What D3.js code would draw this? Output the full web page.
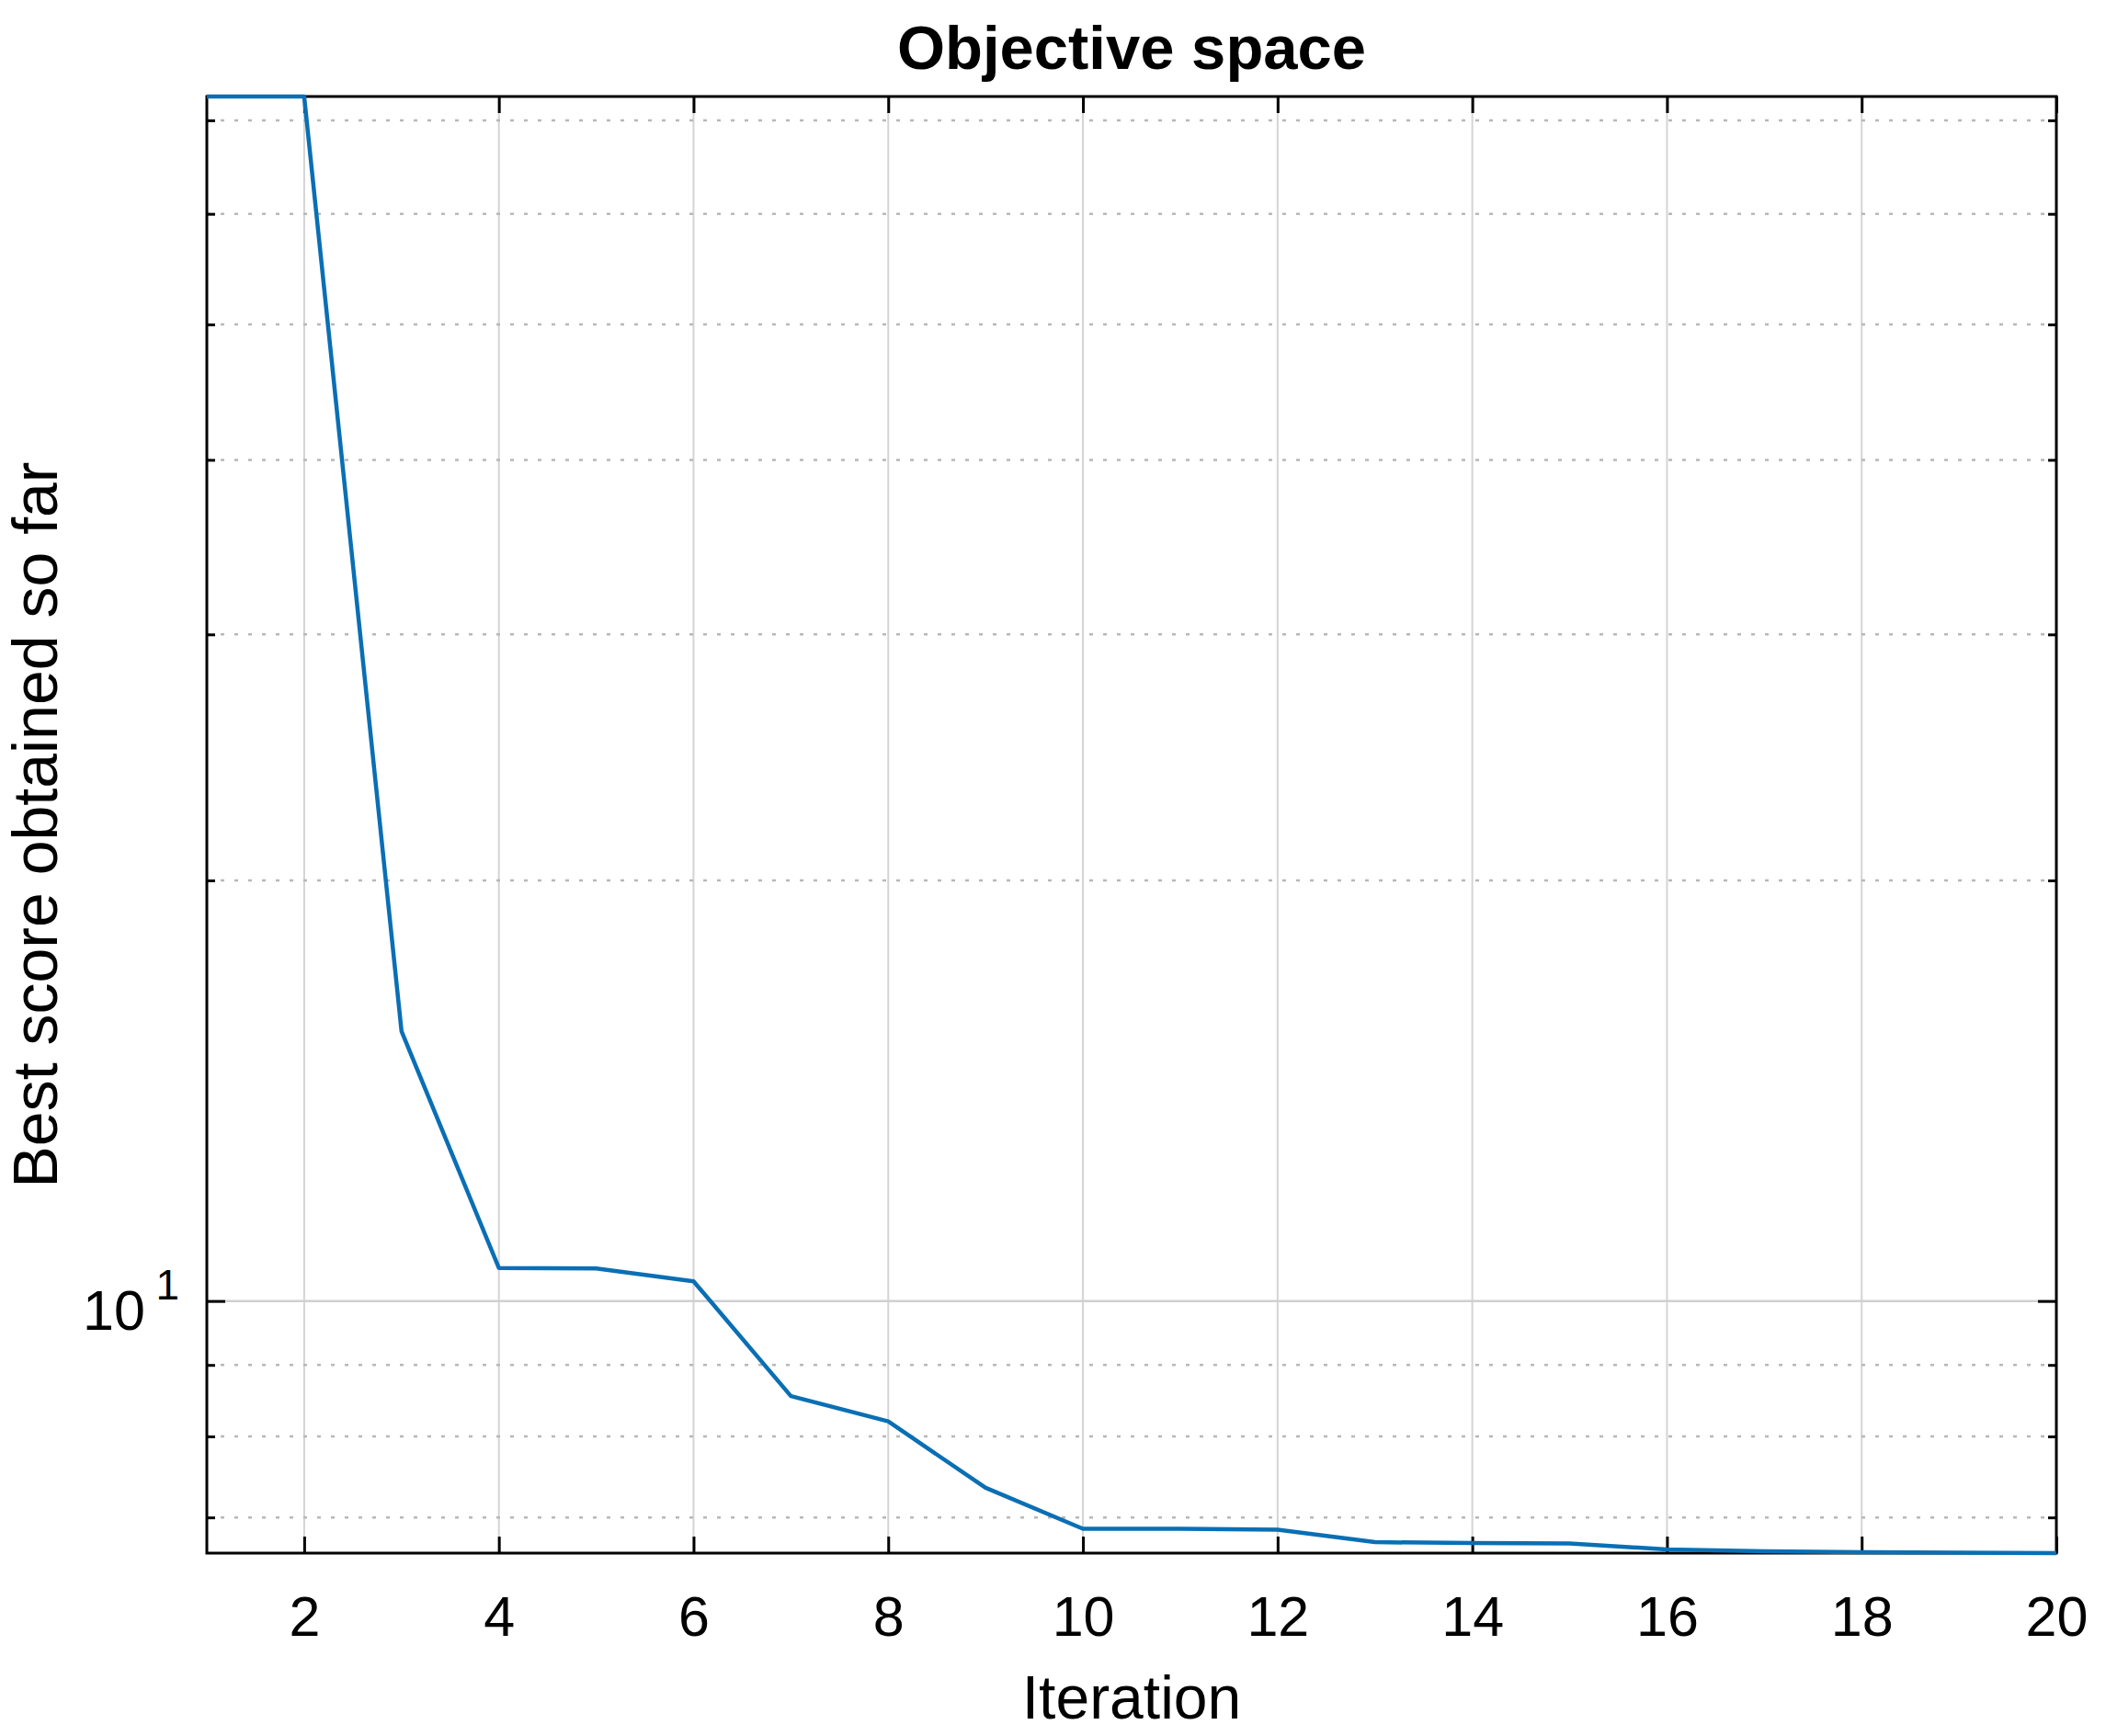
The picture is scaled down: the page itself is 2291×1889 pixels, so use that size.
<!DOCTYPE html>
<html>
<head>
<meta charset="utf-8">
<script src="https://cdn.jsdelivr.net/npm/d3@7"></script>
<style>
  body { margin: 0; background: #fff; }
  text { font-family: "Liberation Sans", Arial, Helvetica, sans-serif; fill: #000; }
</style>
</head>
<body>
<div id="chart"></div>
<script>
/* global d3 */

// Canvas and plot box
const width = 2291,
  height = 1889,
  marginLeft = 225,
  marginRight = 2291 - 2237,
  marginTop = 105,
  marginBottom = 1889 - 1690

// Data
const iterations = [1, 2, 3, 4, 5, 6, 7, 8, 9, 10, 11, 12, 13, 14, 15, 16, 17, 18, 19, 20]
const bestScore = [72.8, 72.8, 15.6, 10.56, 10.55, 10.33, 8.55, 8.2, 7.35, 6.87,
  6.87, 6.86, 6.72, 6.71, 6.705, 6.64, 6.62, 6.61, 6.605, 6.6]

const xTicks = [2, 4, 6, 8, 10, 12, 14, 16, 18, 20]
const yMajor = [10]
const yMinor = [7, 8, 9, 20, 30, 40, 50, 60, 70]

const lineColor = '#0a6fb4'

let svg = d3.select('#chart')
  .append('svg')
  .attr('width', width)
  .attr('height', height)

let xScale = d3.scaleLinear()
  .domain([1, 20])
  .range([marginLeft, width - marginRight])

let yScale = d3.scaleLog()
  .domain([d3.min(bestScore), d3.max(bestScore)])
  .range([height - marginBottom, marginTop])

let x0 = xScale.range()[0], x1 = xScale.range()[1]
let y0 = yScale.range()[0], y1 = yScale.range()[1]

// grid
let grid = svg.append('g')

grid.selectAll('.vgrid')
  .data(xTicks)
  .enter()
  .append('line')
  .attr('x1', d => xScale(d))
  .attr('x2', d => xScale(d))
  .attr('y1', y1)
  .attr('y2', y0)
  .attr('stroke', '#d4d4d4')
  .attr('stroke-width', 2)

grid.selectAll('.hminor')
  .data(yMinor)
  .enter()
  .append('line')
  .attr('x1', x0)
  .attr('x2', x1)
  .attr('y1', d => yScale(d))
  .attr('y2', d => yScale(d))
  .attr('stroke', '#b8b8b8')
  .attr('stroke-width', 2.5)
  .attr('stroke-dasharray', '4 11')

grid.selectAll('.hmajor')
  .data(yMajor)
  .enter()
  .append('line')
  .attr('x1', x0)
  .attr('x2', x1)
  .attr('y1', d => yScale(d))
  .attr('y2', d => yScale(d))
  .attr('stroke', '#d0d0d0')
  .attr('stroke-width', 2.5)

// axes, ticks pointing inwards
let styleAxis = g => {
  g.select('.domain').remove()
  g.selectAll('.tick line').attr('stroke', '#000').attr('stroke-width', 3)
  g.selectAll('.tick text')
    .attr('font-size', 61)
    .attr('fill', '#000')
}

svg.append('g')
  .attr('transform', `translate(0, ${y0})`)
  .call(d3.axisBottom(xScale).tickValues(xTicks).tickSize(-18).tickPadding(47))
  .call(styleAxis)

svg.append('g')
  .attr('transform', `translate(0, ${y1})`)
  .call(d3.axisTop(xScale).tickValues(xTicks).tickSize(-18).tickFormat(''))
  .call(styleAxis)

let yAxis = svg.append('g')
  .attr('transform', `translate(${x0}, 0)`)
  .call(d3.axisLeft(yScale).tickValues(yMajor).tickSize(-20).tickPadding(30))
  .call(styleAxis)

// 10^1 label with superscript
yAxis.selectAll('.tick text')
  .text(null)
  .attr('dy', '0.5em')
  .call(t => {
    t.append('tspan').text('10')
    t.append('tspan').text('1')
      .attr('font-size', 46)
      .attr('dy', '-0.72em')
      .attr('dx', '0.25em')
  })

svg.append('g')
  .attr('transform', `translate(${x0}, 0)`)
  .call(d3.axisLeft(yScale).tickValues(yMinor).tickSize(-9).tickFormat(''))
  .call(styleAxis)

svg.append('g')
  .attr('transform', `translate(${x1}, 0)`)
  .call(d3.axisRight(yScale).tickValues(yMajor).tickSize(-20).tickFormat(''))
  .call(styleAxis)

svg.append('g')
  .attr('transform', `translate(${x1}, 0)`)
  .call(d3.axisRight(yScale).tickValues(yMinor).tickSize(-9).tickFormat(''))
  .call(styleAxis)

// box
svg.append('rect')
  .attr('x', x0)
  .attr('y', y1)
  .attr('width', x1 - x0)
  .attr('height', y0 - y1)
  .attr('fill', 'none')
  .attr('stroke', '#000')
  .attr('stroke-width', 3)

// convergence curve
let line = d3.line()
  .x((d, i) => xScale(iterations[i]))
  .y(d => yScale(d))

svg.append('path')
  .datum(bestScore)
  .attr('d', line)
  .attr('fill', 'none')
  .attr('stroke', lineColor)
  .attr('stroke-width', 4.5)
  .attr('stroke-linejoin', 'round')

// labels
svg.append('text')
  .attr('x', (x0 + x1) / 2)
  .attr('y', 75)
  .attr('text-anchor', 'middle')
  .attr('font-size', 67)
  .attr('font-weight', 'bold')
  .text('Objective space')

svg.append('text')
  .attr('x', (x0 + x1) / 2)
  .attr('y', 1870)
  .attr('text-anchor', 'middle')
  .attr('font-size', 66)
  .text('Iteration')

svg.append('text')
  .attr('transform', `translate(62, ${(y0 + y1) / 2}) rotate(-90)`)
  .attr('text-anchor', 'middle')
  .attr('font-size', 68)
  .text('Best score obtained so far')
</script>
</body>
</html>
